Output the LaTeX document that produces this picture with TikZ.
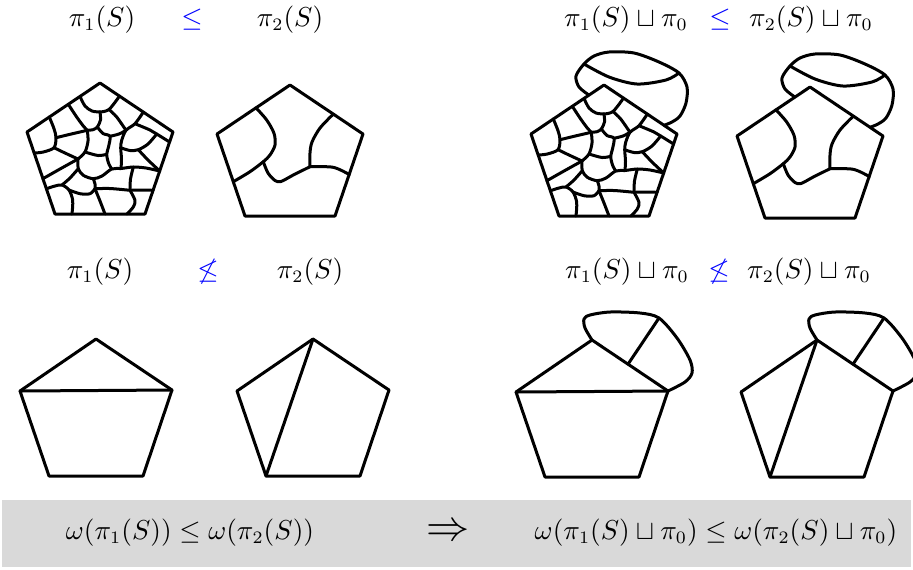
\documentclass[tikz,border=0pt]{standalone}
\usepackage{amsmath,amssymb}

\begin{document}
\begin{tikzpicture}[x=0.4pt,y=-0.4pt]
\tikzset{
  edgeline/.style={draw=black,line width=1.2pt,line cap=round,line join=round},
  relsym/.style={text=blue},
  formula/.style={inner sep=1pt,font=\fontsize{10.7pt}{13pt}\selectfont},
  toppenta/.pic={
    \coordinate (-a) at (0,0);
    \coordinate (-r) at (73,49);
    \coordinate (-br) at (45,131);
    \coordinate (-bl) at (-45,131);
    \coordinate (-l) at (-73,49);
    \draw[edgeline] (-a) -- (-r) -- (-br) -- (-bl) -- (-l) -- cycle;
  },
  lowpenta/.pic={
    \coordinate (-a) at (0,0);
    \coordinate (-r) at (76,51);
    \coordinate (-br) at (47,137);
    \coordinate (-bl) at (-47,137);
    \coordinate (-l) at (-76,52);
    \draw[edgeline] (-a) -- (-r) -- (-br) -- (-bl) -- (-l) -- cycle;
  },
  finecells/.pic={
    \draw[edgeline] plot[smooth] coordinates {(-20,13.4) (-15,23) (-8,28) (0,29)};
    \draw[edgeline] plot[smooth] coordinates {(0,29) (9,26.5) (19.5,13.1)};
    \draw[edgeline] plot[smooth] coordinates {(0,29) (0.5,37) (-2.7,44) (-7,46.7) (-12.7,47.3)};
    \draw[edgeline] plot[smooth] coordinates {(-31.7,21.3) (-23.3,34) (-16.7,43) (-12.7,47.3)};
    \draw[edgeline] plot[smooth] coordinates {(-50.7,34) (-46,45.7) (-44,54.7) (-46,64.7) (-56.7,69) (-65.8,70)};
    \draw[edgeline] plot[smooth] coordinates {(-44,54.7) (-30,51.3) (-12.7,47.3)};
    \draw[edgeline] plot[smooth] coordinates {(-12.7,47.3) (-12,58) (-15,69) (-22,76)};
    \draw[edgeline] plot[smooth] coordinates {(-15,69) (-2,72.5) (6.7,71.3)};
    \draw[edgeline] plot[smooth] coordinates {(-2.7,44) (3,50.5) (10,53.3) (8.5,64) (6.7,71.3) (8.5,80) (11.7,86)};
    \draw[edgeline] plot[smooth] coordinates {(10,53.3) (19,51) (26,47.3)};
    \draw[edgeline] plot[smooth] coordinates {(9,26.5) (16.7,34) (26,47.3)};
    \draw[edgeline] plot[smooth] coordinates {(43.3,29.1) (35,40.7) (26,47.3) (21.7,57.3) (20.7,64.7) (21.5,76) (21,85.5)};
    \draw[edgeline] plot[smooth] coordinates {(35,40.7) (50,47) (56.7,51) (69.6,59)};
    \draw[edgeline] plot[smooth] coordinates {(20.7,64.7) (30,67.5) (38.3,66.7) (48,61) (56.7,51)};
    \draw[edgeline] plot[smooth] coordinates {(38.3,66.7) (48,77) (59.7,88)};
    \draw[edgeline] plot[smooth] coordinates {(-22,76) (-21.7,85.7) (-16.7,92.3) (-6.7,95.7) (2,93) (11.7,86) (21,85.5) (33.3,84) (46,85) (59.7,88)};
    \draw[edgeline] plot[smooth] coordinates {(33.3,84) (30.5,96) (30,107.3)};
    \draw[edgeline] plot[smooth] coordinates {(30,107.3) (42,107) (53.1,107.3)};
    \draw[edgeline] plot[smooth] coordinates {(30,107.3) (35,117.3) (33.3,124) (27,131)};
    \draw[edgeline] plot[smooth] coordinates {(-6.7,95.7) (-5,101) (-5,105.7)};
    \draw[edgeline] plot[smooth] coordinates {(-5,105.7) (10,105.5) (30,107.3)};
    \draw[edgeline] plot[smooth] coordinates {(-5,105.7) (0,118) (5,131)};
    \draw[edgeline] plot[smooth] coordinates {(-53.6,105.7) (-45,103) (-38,102) (-31,107) (-27.3,117.3) (-28,131)};
    \draw[edgeline] plot[smooth] coordinates {(-31,107) (-20,110.7) (-10,110.7) (-5,105.7)};
    \draw[edgeline] plot[smooth] coordinates {(-46,64.7) (-35,70) (-22,76)};
    \draw[edgeline] plot[smooth] coordinates {(-22,76) (-40,86) (-57.1,95.7)};
    \draw[edgeline] plot[smooth] coordinates {(-38,102) (-30,95) (-21.7,85.7)};
  },
  coarsecells/.pic={
    \draw[edgeline] plot[smooth] coordinates {(-34,22.8) (-23.3,35) (-16,48.3) (-15,60) (-20,70) (-26.7,76.7) (-40,86.7) (-56.7,96.7)};
    \draw[edgeline] plot[smooth] coordinates {(-26.7,76.7) (-22,88) (-15,95.5) (-9,96.5) (3.3,90) (20,81.7)};
    \draw[edgeline] plot[smooth] coordinates {(43.3,29.1) (30,43) (22,57) (20,68) (20,81.7)};
    \draw[edgeline] plot[smooth] coordinates {(20,81.7) (43.3,82.3) (59.2,89.5)};
  },
  topblob/.pic={
    \draw[edgeline] plot[smooth] coordinates {(-15,10.1) (-25,2) (-28,-9) (-20,-21) (-10,-29) (5,-33) (30,-32) (55,-23) (75,-12) (83,2) (82,18) (76,31) (68,37) (60,40.3)};
    \draw[edgeline] plot[smooth] coordinates {(-20,-21) (5,-8) (33,-1) (62,-5) (75,-12)};
  },
  lowblob/.pic={
    \draw[edgeline] plot[smooth] coordinates {(0,0) (-7,-12) (-8,-21) (-2,-25) (18,-28) (48,-27) (67,-22) (85,-2) (98,20) (100,33) (93,42) (76,51)};
    \draw[edgeline] (67,-22) -- (36,24.2);
  }
}
\useasboundingbox (0,0) rectangle (913,569);

% bottom band
\fill[black!15] (2,500) rectangle (911,567);
\node[formula] (f_left) at (190,533) {$\omega(\pi_1(S)) \leq \omega(\pi_2(S))$};
\node[formula] (f_impl) at (448,533) {\LARGE$\Rightarrow$};
\node[formula] (f_right) at (716,533) {$\omega(\pi_1(S)\sqcup\pi_0) \leq \omega(\pi_2(S)\sqcup\pi_0)$};

% top row
\node[formula] (t_a) at (102,20) {$\pi_1(S)$};
\node[formula,relsym] (t_le) at (192,20) {$\leq$};
\node[formula] (t_b) at (290,20) {$\pi_2(S)$};
\node[formula] (t_c) at (626,20) {$\pi_1(S)\sqcup\pi_0$};
\node[formula,relsym] (t_le0) at (720,20) {$\leq$};
\node[formula] (t_d) at (811,20) {$\pi_2(S)\sqcup\pi_0$};

\pic (p1) at (100,83) {toppenta};
\pic at (100,83) {finecells};
\pic (p2) at (290,85) {toppenta};
\pic at (290,85) {coarsecells};
\pic (p3) at (604,85) {toppenta};
\pic at (604,85) {finecells};
\pic at (604,85) {topblob};
\pic (p4) at (810,87) {toppenta};
\pic at (810,87) {coarsecells};
\pic at (810,87) {topblob};

% second row
\node[formula] (s_a) at (100,272) {$\pi_1(S)$};
\node[formula,relsym] (s_nle) at (208,272) {$\not\leq$};
\node[formula] (s_b) at (310,272) {$\pi_2(S)$};
\node[formula] (s_c) at (627,272) {$\pi_1(S)\sqcup\pi_0$};
\node[formula,relsym] (s_nle0) at (719,272) {$\not\leq$};
\node[formula] (s_d) at (809,272) {$\pi_2(S)\sqcup\pi_0$};

\pic (q1) at (96,339) {lowpenta};
\draw[edgeline] (q1-l) -- (q1-r);
\pic (q2) at (313,339) {lowpenta};
\draw[edgeline] (q2-a) -- (q2-bl);
\pic (q3) at (592,340) {lowpenta};
\draw[edgeline] (q3-l) -- (q3-r);
\pic at (592,340) {lowblob};
\pic (q4) at (817,340) {lowpenta};
\draw[edgeline] (q4-a) -- (q4-bl);
\pic at (817,340) {lowblob};
\end{tikzpicture}
\end{document}
